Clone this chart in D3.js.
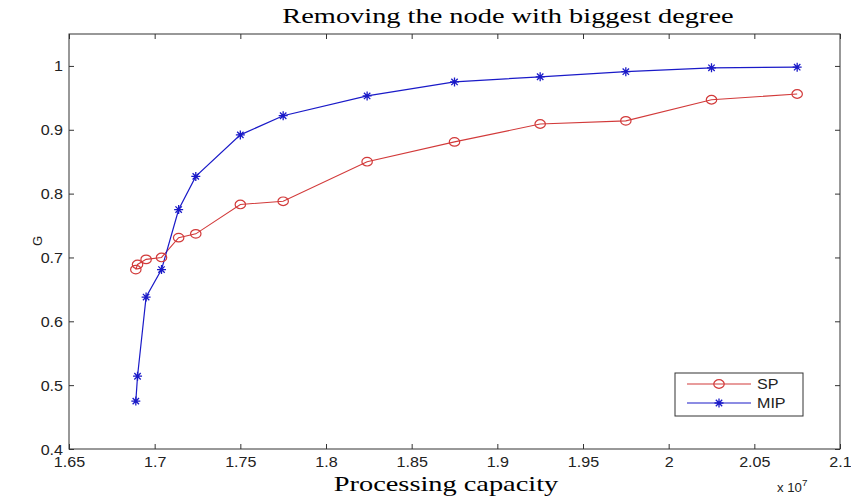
<!DOCTYPE html>
<html><head><meta charset="utf-8">
<script src="https://cdn.jsdelivr.net/npm/d3@7"></script>
<style>body{margin:0;background:#fff}svg{display:block}</style>
</head><body><svg id="c" width="851" height="499"></svg>
<script>
const xVals = [1.689, 1.690, 1.695, 1.704, 1.714, 1.724, 1.750, 1.775, 1.824, 1.875, 1.925, 1.975, 2.025, 2.075];
const spVals = [0.681, 0.689, 0.697, 0.700, 0.731, 0.737, 0.783, 0.788, 0.850, 0.881, 0.909, 0.914, 0.947, 0.956];
const mipVals = [0.475, 0.514, 0.638, 0.681, 0.775, 0.827, 0.892, 0.922, 0.953, 0.975, 0.983, 0.991, 0.997, 0.998];
const xTicks = [1.65, 1.7, 1.75, 1.8, 1.85, 1.9, 1.95, 2, 2.05, 2.1];
const yTicks = [0.4, 0.5, 0.6, 0.7, 0.8, 0.9, 1];
const seriesNames = ["SP", "MIP"];

const L = 69, R = 840, T = 34, B = 449;
const svg = d3.select("#c");
const x = d3.scaleLinear().domain([1.65, 2.1]).range([L, R]);
const y = d3.scaleLinear().domain([0.4, 1.05]).range([B, T]);
const tickFont = "'Liberation Sans', Arial, sans-serif";
const serif = "'Liberation Serif', 'Times New Roman', serif";
const axisCol = "#333";
const SX = 1.15;

svg.append("rect").attr("x", L).attr("y", T).attr("width", R - L).attr("height", B - T)
  .attr("fill", "none").attr("stroke", axisCol).attr("stroke-width", 1);

function styleAxis(g) {
  g.select(".domain").remove();
  g.selectAll(".tick line").attr("stroke", axisCol);
  g.selectAll(".tick text").attr("fill", "#222").style("font-family", tickFont).style("font-size", "14px");
}
const fmt = d => String(+d.toFixed(2));
svg.append("g").attr("transform", `translate(0,${B})`)
  .call(d3.axisBottom(x).tickValues(xTicks).tickFormat(fmt).tickSizeInner(-5).tickSizeOuter(0).tickPadding(8))
  .call(styleAxis)
  .call(g => g.selectAll(".tick text").attr("transform", `scale(${SX},1)`));
svg.append("g").attr("transform", `translate(0,${T})`)
  .call(d3.axisTop(x).tickValues(xTicks).tickFormat("").tickSizeInner(-5).tickSizeOuter(0))
  .call(styleAxis);
svg.append("g").attr("transform", `translate(${L},0)`)
  .call(d3.axisLeft(y).tickValues(yTicks).tickFormat(fmt).tickSizeInner(-5).tickSizeOuter(0).tickPadding(6))
  .call(styleAxis)
  .call(g => g.selectAll(".tick text").attr("x", -6 / SX).attr("dy", "0.36em").attr("transform", `scale(${SX},1)`));
svg.append("g").attr("transform", `translate(${R},0)`)
  .call(d3.axisRight(y).tickValues(yTicks).tickFormat("").tickSizeInner(-5).tickSizeOuter(0))
  .call(styleAxis);

const spCol = "#d23a3a", mipCol = "#1a1ac8";
const line = d3.line().x(d => x(d[0])).y(d => y(d[1]));
const sp = xVals.map((v, i) => [v, spVals[i]]);
const mip = xVals.map((v, i) => [v, mipVals[i]]);

function star(g, cx, cy, col) {
  const s = 4.5, d = 3.2;
  g.append("path").attr("d",
    `M${cx - s},${cy}H${cx + s}M${cx},${cy - s}V${cy + s}M${cx - d},${cy - d}L${cx + d},${cy + d}M${cx - d},${cy + d}L${cx + d},${cy - d}`)
    .attr("stroke", col).attr("stroke-width", 1.3).attr("fill", "none");
}
function circ(g, cx, cy, col) {
  g.append("ellipse").attr("cx", cx).attr("cy", cy).attr("rx", 5.2).attr("ry", 4.3)
    .attr("fill", "none").attr("stroke", col).attr("stroke-width", 1.2);
}

svg.append("path").datum(sp).attr("d", line).attr("fill", "none").attr("stroke", spCol).attr("stroke-width", 1.1);
svg.append("path").datum(mip).attr("d", line).attr("fill", "none").attr("stroke", mipCol).attr("stroke-width", 1.2);
const gm = svg.append("g");
sp.forEach(d => circ(gm, x(d[0]), y(d[1]), spCol));
mip.forEach(d => star(gm, x(d[0]), y(d[1]), mipCol));

// title and labels (horizontally stretched like the reference)
svg.append("text").attr("transform", "translate(508,23) scale(1.29,1)").attr("text-anchor", "middle")
  .style("font-family", serif).style("font-size", "22px")
  .text("Removing the node with biggest degree");
svg.append("text").attr("transform", "translate(446,491) scale(1.29,1)").attr("text-anchor", "middle")
  .style("font-family", serif).style("font-size", "22px")
  .text("Processing capacity");
const e = svg.append("text").attr("transform", "translate(777,492) scale(1.1,1)")
  .style("font-family", tickFont).style("font-size", "12px").attr("fill", "#222");
e.append("tspan").text("x 10");
e.append("tspan").attr("dy", -6).style("font-size", "9px").text("7");
svg.append("text").attr("transform", "translate(42,241) rotate(-90)").attr("text-anchor", "middle")
  .style("font-family", tickFont).style("font-size", "13px").attr("fill", "#222").text("G");

// legend
const lg = svg.append("g");
lg.append("rect").attr("x", 675).attr("y", 373).attr("width", 128).attr("height", 43)
  .attr("fill", "#fff").attr("stroke", axisCol).attr("stroke-width", 1);
[[spCol, 384, circ], [mipCol, 403, star]].forEach((s, i) => {
  lg.append("line").attr("x1", 687).attr("x2", 751).attr("y1", s[1]).attr("y2", s[1]).attr("stroke", s[0]).attr("stroke-width", 1.1);
  s[2](lg, 719, s[1], s[0]);
  lg.append("text").attr("transform", `translate(757,${s[1] + 5}) scale(${SX},1)`).style("font-family", tickFont).style("font-size", "14px")
    .attr("fill", "#222").text(seriesNames[i]);
});
</script></body></html>
